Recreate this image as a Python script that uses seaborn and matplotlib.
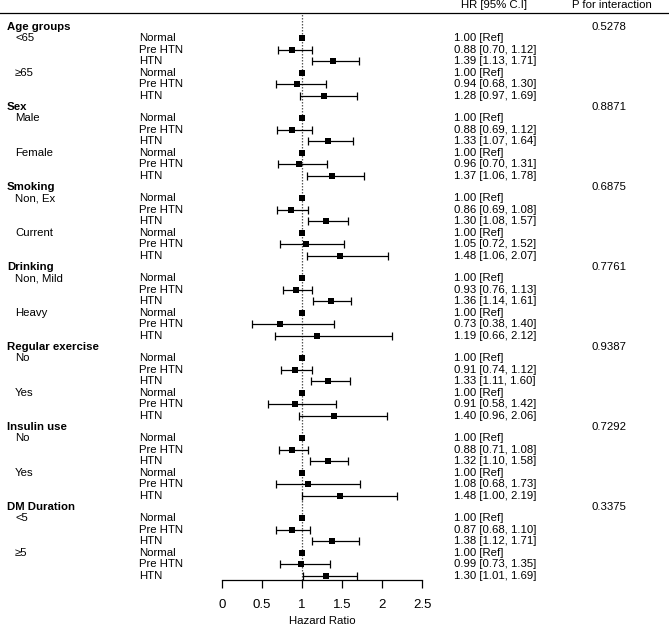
import matplotlib
matplotlib.use("Agg")
import matplotlib.pyplot as plt
from matplotlib.lines import Line2D
import seaborn as sns
import pandas as pd
import numpy as np

# ---- data ----
groups = ["Age groups", "Sex", "Smoking", "Drinking", "Regular exercise", "Insulin use", "DM Duration"]
subgroups = [["<65", "≥65"], ["Male", "Female"], ["Non, Ex", "Current"], ["Non, Mild", "Heavy"],
             ["No", "Yes"], ["No", "Yes"], ["<5", "≥5"]]
levels = ["Normal", "Pre HTN", "HTN"]
p_interaction = ["0.5278", "0.8871", "0.6875", "0.7761", "0.9387", "0.7292", "0.3375"]

# per subgroup: (Pre HTN hr, lo, hi), (HTN hr, lo, hi)
prehtn_hr = [0.88, 0.94, 0.88, 0.96, 0.86, 1.05, 0.93, 0.73, 0.91, 0.91, 0.88, 1.08, 0.87, 0.99]
prehtn_lo = [0.70, 0.68, 0.69, 0.70, 0.69, 0.72, 0.76, 0.38, 0.74, 0.58, 0.71, 0.68, 0.68, 0.73]
prehtn_hi = [1.12, 1.30, 1.12, 1.31, 1.08, 1.52, 1.13, 1.40, 1.12, 1.42, 1.08, 1.73, 1.10, 1.35]
htn_hr = [1.39, 1.28, 1.33, 1.37, 1.30, 1.48, 1.36, 1.19, 1.33, 1.40, 1.32, 1.48, 1.38, 1.30]
htn_lo = [1.13, 0.97, 1.07, 1.06, 1.08, 1.06, 1.14, 0.66, 1.11, 0.96, 1.10, 1.00, 1.12, 1.01]
htn_hi = [1.71, 1.69, 1.64, 1.78, 1.57, 2.07, 1.61, 2.12, 1.60, 2.06, 1.58, 2.19, 1.71, 1.69]
xticks = [0, 0.5, 1, 1.5, 2, 2.5]
xticklabels = ["0", "0.5", "1", "1.5", "2", "2.5"]

# ---- build rows ----
rows = []
r = 0
k = 0
for gi, g in enumerate(groups):
    rows.append(dict(row=r, kind="group", label=g, p=p_interaction[gi]))
    r += 1
    for sg in subgroups[gi]:
        vals = [(1.0, None, None), (prehtn_hr[k], prehtn_lo[k], prehtn_hi[k]),
                (htn_hr[k], htn_lo[k], htn_hi[k])]
        for li, lev in enumerate(levels):
            hr, lo, hi = vals[li]
            rows.append(dict(row=r, kind="level", sub=sg if li == 0 else "", level=lev,
                             hr=hr, lo=lo, hi=hi))
            r += 1
        k += 1
df = pd.DataFrame(rows)
nrows = r

# ---- figure ----
W, H = 669, 627
plt.rcParams["font.family"] = ["Liberation Sans", "DejaVu Sans"]
fs = 8.2
fig = plt.figure(figsize=(W / 100, H / 100), dpi=100)
ax_top_px, ax_bot_px = 13, 580
row0_px, step = 27, 11.43
ax = fig.add_axes([222 / W, 1 - ax_bot_px / H, 200 / W, (ax_bot_px - ax_top_px) / H])
ax.set_xlim(0, 2.5)
ax.set_ylim((ax_bot_px - row0_px) / step, (ax_top_px - row0_px) / step)

pts = df[df.kind == "level"].copy()
ax.axvline(1, color="#555555", ls=(0, (1.2, 1.2)), lw=0.9, zorder=1)

ci = pts[pts.lo.notna()]
ax.errorbar(ci.hr, ci.row, xerr=[ci.hr - ci.lo, ci.hi - ci.hr], fmt="none",
            ecolor="black", elinewidth=0.9, capsize=2.6, capthick=0.9, zorder=2)
sns.scatterplot(data=pts, x="hr", y="row", marker="s", color="black", s=16,
                linewidth=0, ax=ax, legend=False, zorder=3)

for s in ["top", "right", "left"]:
    ax.spines[s].set_visible(False)
ax.spines["bottom"].set_linewidth(0.9)
ax.set_yticks([])
ax.set_ylabel("")
ax.set_xticks(xticks)
ax.set_xticklabels(xticklabels, fontsize=9.5)
ax.tick_params(axis="x", direction="out", length=6, width=0.9, pad=8)
ax.set_xlabel("Hazard Ratio", fontsize=fs, labelpad=3)

# texts
trans = matplotlib.transforms.blended_transform_factory(fig.transFigure, ax.transData)
for _, rw in df.iterrows():
    if rw.kind == "group":
        ax.text(7 / W, rw.row, rw.label, transform=trans, fontsize=fs, fontweight="bold",
                va="center", ha="left", clip_on=False)
        ax.text(592 / W, rw.row, rw.p, transform=trans, fontsize=fs, va="center",
                ha="left", clip_on=False)
    else:
        if rw["sub"]:
            ax.text(15 / W, rw.row, rw["sub"], transform=trans, fontsize=fs,
                    va="center", ha="left", clip_on=False)
        ax.text(139 / W, rw.row, rw.level, transform=trans, fontsize=fs,
                va="center", ha="left", clip_on=False)
        if pd.isna(rw.lo):
            t = f"{rw.hr:.2f} [Ref]"
        else:
            t = f"{rw.hr:.2f} [{rw.lo:.2f}, {rw.hi:.2f}]"
        ax.text(454 / W, rw.row, t, transform=trans, fontsize=fs, va="center",
                ha="left", clip_on=False)

fig.text(461 / W, 1 - 4.5 / H, "HR [95% C.I]", fontsize=fs, va="center", ha="left")
fig.text(572 / W, 1 - 4.5 / H, "P for interaction", fontsize=fs, va="center", ha="left")
fig.add_artist(Line2D([0, 1], [1 - 13 / H, 1 - 13 / H], transform=fig.transFigure,
                      color="black", lw=0.9))

fig.savefig("out.png", dpi=100)
